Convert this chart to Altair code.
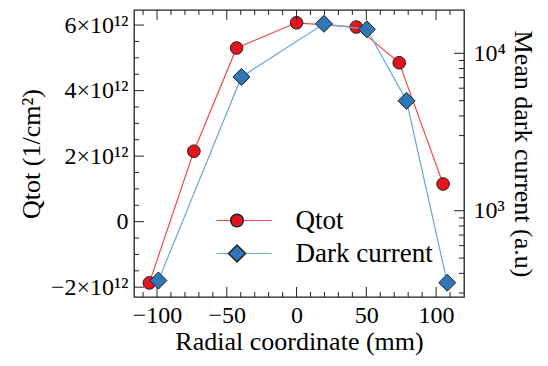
import altair as alt
import pandas as pd

# ---------------- data ----------------
series_names = ["Qtot", "Dark current"]
line_names = ["Qtot line", "Dark current line"]

q_x = [-105.5, -73.6, -43.0, 0.0, 42.8, 73.6, 105.0]
q_vals = [-1.87e12, 2.15e12, 5.30e12, 6.07e12, 5.94e12, 4.85e12, 1.15e12]

d_x = [-99.0, -39.5, 19.6, 50.4, 78.8, 108.0]
d_vals = [360, 7080, 15400, 14200, 4990, 349]

x_tick_values = [-100, -50, 0, 50, 100]
x_minor_values = [-110, -90, -80, -70, -60, -40, -30, -20, -10,
                  10, 20, 30, 40, 60, 70, 80, 90, 110]
q_tick_values = [-2e12, 0.0, 2e12, 4e12, 6e12]
q_tick_labels = ["−2×10¹²", "0", "2×10¹²", "4×10¹²", "6×10¹²"]
q_minor_values = [-1.5e12, -1e12, -0.5e12, 0.5e12, 1e12, 1.5e12, 2.5e12, 3e12,
                  3.5e12, 4.5e12, 5e12, 5.5e12]
d_tick_values = [1000.0, 10000.0]
d_tick_labels = ["10³", "10⁴"]
d_minor_values = [300, 400, 500, 600, 700, 800, 900,
                  2000, 3000, 4000, 5000, 6000, 7000, 8000, 9000]

x_title = "Radial coordinate (mm)"
q_title = "Qtot (1/cm²)"
d_title = "Mean dark current (a.u)"

# ---------------- styling ----------------
W, H = 330, 287
FONT = "Liberation Serif"
RED_FILL, BLUE_FILL = "#e3141c", "#2f77b6"
RED_LINE, BLUE_LINE = "#f04a4a", "#6aa6da"
EDGE = "#222222"
MAJ, MIN = 10, 5
LAB, TIT, LEG = 24, 26, 27


def label_expr(values, labels):
    expr = "''"
    for v, l in reversed(list(zip(values, labels))):
        expr = f"datum.value == {float(v)!r} ? '{l}' : {expr}"
    return expr


q_df = pd.DataFrame({"x": q_x, "y": q_vals, "series": series_names[0], "line": line_names[0]})
d_df = pd.DataFrame({"x": d_x, "y": d_vals, "series": series_names[1], "line": line_names[1]})

x_scale = alt.Scale(domain=[-116.5, 120], nice=False, zero=False)
q_scale = alt.Scale(domain=[-2.3e12, 6.46e12], nice=False, zero=False)
d_scale = alt.Scale(type="log", domain=[283, 18840], nice=False)

fill_scale = alt.Scale(domain=series_names, range=[RED_FILL, BLUE_FILL])
shape_scale = alt.Scale(domain=series_names, range=["circle", "diamond"])
size_scale = alt.Scale(domain=series_names, range=[160, 290])
stroke_scale = alt.Scale(domain=line_names, range=[RED_LINE, BLUE_LINE])

marker_legend = alt.Legend(orient="none", legendX=89.5, legendY=197, title=None,
                           labelFont=FONT, labelFontSize=LEG, labelColor="black",
                           labelOffset=45, rowPadding=5, padding=0, zindex=2,
                           labelLimit=300)
line_legend = alt.Legend(orient="none", legendX=96.5, legendY=197, title=None,
                         symbolType="M-5,0H5", symbolSize=121, symbolStrokeWidth=1.2,
                         labelFont=FONT, labelFontSize=LEG, labelExpr="' '",
                         labelOffset=10, rowPadding=5, padding=0, zindex=1)

common = dict(ticks=False, tickSize=0, domain=False, grid=False,
              labelFont=FONT, labelFontSize=LAB, labelColor="black",
              titleFont=FONT, titleFontSize=TIT, titleFontWeight="normal", titleColor="black")
x_axis = alt.Axis(values=x_tick_values,
                  labelExpr="datum.value < 0 ? '−' + abs(datum.value) : '' + datum.value",
                  labelPadding=6, title=x_title, titlePadding=1, **common)
q_axis = alt.Axis(values=q_tick_values, labelExpr=label_expr(q_tick_values, q_tick_labels),
                  orient="left", labelPadding=6, title=q_title, titlePadding=6, **common)
d_axis = alt.Axis(values=d_tick_values, labelExpr=label_expr(d_tick_values, d_tick_labels),
                  orient="right", labelPadding=9, title=d_title, titlePadding=4, **common)

# ---------------- left (Qtot) layer ----------------
q_line = alt.Chart(q_df).mark_line(strokeWidth=1.2).encode(
    x=alt.X("x:Q", scale=x_scale, axis=x_axis),
    y=alt.Y("y:Q", scale=q_scale, axis=q_axis),
    stroke=alt.Stroke("line:N", scale=stroke_scale, legend=line_legend),
)
q_pts = alt.Chart(q_df).mark_point(filled=True, stroke=EDGE, strokeWidth=1, opacity=1).encode(
    x=alt.X("x:Q", scale=x_scale, axis=x_axis),
    y=alt.Y("y:Q", scale=q_scale, axis=q_axis),
    fill=alt.Fill("series:N", scale=fill_scale, legend=marker_legend),
    shape=alt.Shape("series:N", scale=shape_scale, legend=marker_legend),
    size=alt.Size("series:N", scale=size_scale, legend=marker_legend),
)


def yrules(values, scale, axis, x0, x1):
    return alt.Chart(pd.DataFrame({"v": values})).mark_rule(color=EDGE, strokeWidth=1).encode(
        y=alt.Y("v:Q", scale=scale, axis=axis), x=alt.value(x0), x2=alt.value(x1))


def xrules(values, y0, y1):
    return alt.Chart(pd.DataFrame({"v": values})).mark_rule(color=EDGE, strokeWidth=1).encode(
        x=alt.X("v:Q", scale=x_scale, axis=x_axis), y=alt.value(y0), y2=alt.value(y1))


left = alt.layer(
    q_line, q_pts,
    yrules(q_tick_values, q_scale, q_axis, 0, MAJ),
    yrules(q_minor_values, q_scale, q_axis, 0, MIN),
    xrules(x_tick_values, H, H - MAJ),
    xrules(x_minor_values, H, H - MIN),
    xrules(x_tick_values, 0, MAJ),
    xrules(x_minor_values, 0, MIN),
)

# ---------------- right (dark current) layer ----------------
d_line = alt.Chart(d_df).mark_line(strokeWidth=1.2).encode(
    x=alt.X("x:Q", scale=x_scale, axis=x_axis),
    y=alt.Y("y:Q", scale=d_scale, axis=d_axis),
    stroke=alt.Stroke("line:N", scale=stroke_scale, legend=line_legend),
)
d_pts = alt.Chart(d_df).mark_point(filled=True, stroke=EDGE, strokeWidth=1, opacity=1).encode(
    x=alt.X("x:Q", scale=x_scale, axis=x_axis),
    y=alt.Y("y:Q", scale=d_scale, axis=d_axis),
    fill=alt.Fill("series:N", scale=fill_scale, legend=marker_legend),
    shape=alt.Shape("series:N", scale=shape_scale, legend=marker_legend),
    size=alt.Size("series:N", scale=size_scale, legend=marker_legend),
)
right = alt.layer(
    d_line, d_pts,
    yrules(d_tick_values, d_scale, d_axis, W - MAJ, W),
    yrules(d_minor_values, d_scale, d_axis, W - MIN, W),
)

chart = alt.layer(left, right).resolve_scale(y="independent").properties(
    width=W, height=H,
    autosize=alt.AutoSizeParams(type="none"),
    padding={"left": 126, "top": 2, "right": 76, "bottom": 61},
).configure_view(stroke=EDGE, strokeWidth=1.3)

chart.save("out.html", embed_options={"renderer": "svg", "actions": False})
